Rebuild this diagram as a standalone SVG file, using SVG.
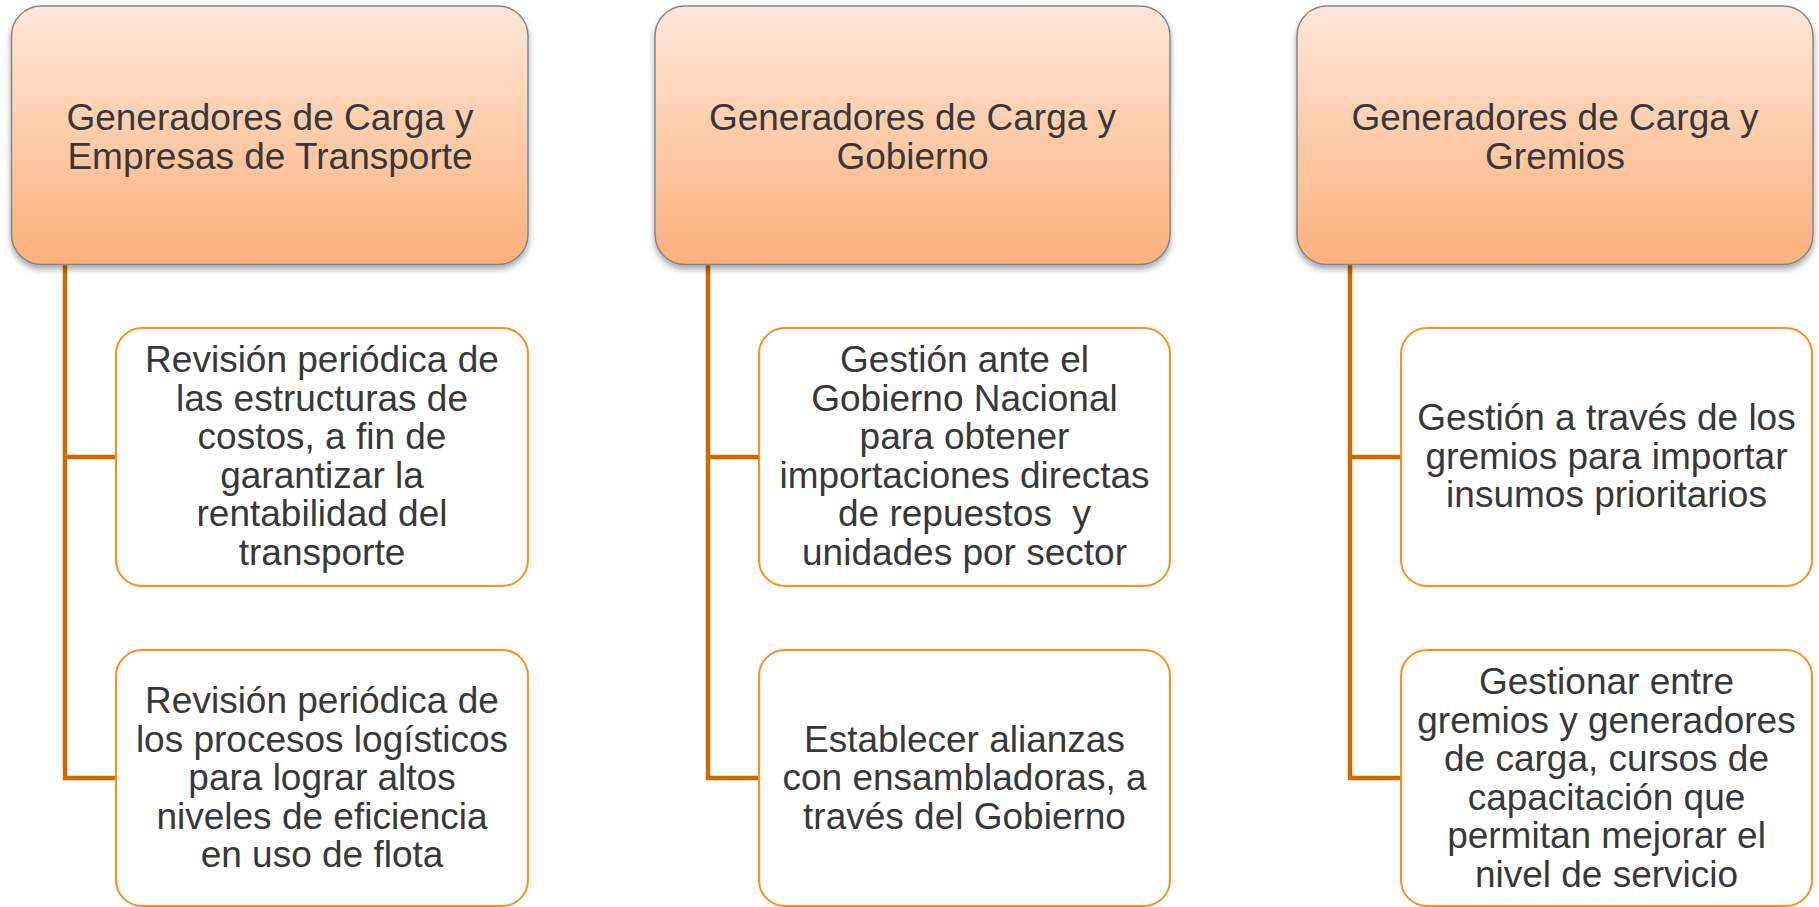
<svg xmlns="http://www.w3.org/2000/svg" width="1819" height="907" viewBox="0 0 1819 907">
<defs>
<linearGradient id="hg" x1="0" y1="0" x2="0" y2="1">
<stop offset="0" stop-color="#FEE7D9"/>
<stop offset="0.5" stop-color="#FDCCAA"/>
<stop offset="1" stop-color="#FCB07B"/>
</linearGradient>
<filter id="sh" x="-5%" y="-5%" width="110%" height="115%">
<feDropShadow dx="0" dy="4" stdDeviation="3" flood-color="#000" flood-opacity="0.35"/>
</filter>
</defs>
<style>
.hdr{fill:url(#hg);stroke:#858585;stroke-width:1.5;filter:url(#sh)}
.box{fill:#FFFFFF;stroke:#FF8F1A;stroke-width:2}
.conn{fill:none;stroke:#CC6A00;stroke-width:4.5}
text{font-family:"Liberation Sans",Arial,sans-serif;font-size:37px;fill:#383838;text-anchor:middle}
.pre{white-space:pre}
</style>
<g id="connectors">
<path class="conn" d="M65,264 V778 H116 M65,457 H116"/>
<path class="conn" d="M708,264 V778 H759 M708,457 H759"/>
<path class="conn" d="M1350,264 V778 H1401 M1350,457 H1401"/>
</g>
<g id="h1">
<rect class="hdr" x="11.5" y="6" width="516.5" height="258.5" rx="30"/>
<text x="270" y="129.5">Generadores de Carga y</text>
<text x="270" y="168.5">Empresas de Transporte</text>
</g>
<g id="h2">
<rect class="hdr" x="655" y="6" width="515" height="258.5" rx="30"/>
<text x="912.5" y="129.5">Generadores de Carga y</text>
<text x="912.5" y="168.5">Gobierno</text>
</g>
<g id="h3">
<rect class="hdr" x="1297" y="6" width="516" height="258.5" rx="30"/>
<text x="1555" y="129.5">Generadores de Carga y</text>
<text x="1555" y="168.5">Gremios</text>
</g>
<g id="c1a">
<rect class="box" x="116" y="328" width="412" height="258" rx="26"/>
<text x="322" y="372">Revisión periódica de</text>
<text x="322" y="410.5">las estructuras de</text>
<text x="322" y="449">costos, a fin de</text>
<text x="322" y="487.5">garantizar la</text>
<text x="322" y="526">rentabilidad del</text>
<text x="322" y="564.5">transporte</text>
</g>
<g id="c1b">
<rect class="box" x="116" y="650" width="412" height="256" rx="26"/>
<text x="322" y="713">Revisión periódica de</text>
<text x="322" y="751.5">los procesos logísticos</text>
<text x="322" y="790">para lograr altos</text>
<text x="322" y="828.5">niveles de eficiencia</text>
<text x="322" y="867">en uso de flota</text>
</g>
<g id="c2a">
<rect class="box" x="759" y="328" width="411" height="258" rx="26"/>
<text x="964.5" y="372">Gestión ante el</text>
<text x="964.5" y="410.5">Gobierno Nacional</text>
<text x="964.5" y="449">para obtener</text>
<text x="964.5" y="487.5">importaciones directas</text>
<text class="pre" x="964.5" y="526" xml:space="preserve">de repuestos  y</text>
<text x="964.5" y="564.5">unidades por sector</text>
</g>
<g id="c2b">
<rect class="box" x="759" y="650" width="411" height="256" rx="26"/>
<text x="964.5" y="751.5">Establecer alianzas</text>
<text x="964.5" y="790">con ensambladoras, a</text>
<text x="964.5" y="828.5">través del Gobierno</text>
</g>
<g id="c3a">
<rect class="box" x="1401" y="328" width="411" height="258" rx="26"/>
<text x="1606.5" y="430">Gestión a través de los</text>
<text x="1606.5" y="468.5">gremios para importar</text>
<text x="1606.5" y="507">insumos prioritarios</text>
</g>
<g id="c3b">
<rect class="box" x="1401" y="650" width="411" height="256" rx="26"/>
<text x="1606.5" y="694">Gestionar entre</text>
<text x="1606.5" y="732.5">gremios y generadores</text>
<text x="1606.5" y="771">de carga, cursos de</text>
<text x="1606.5" y="809.5">capacitación que</text>
<text x="1606.5" y="848">permitan mejorar el</text>
<text x="1606.5" y="886.5">nivel de servicio</text>
</g>
</svg>
